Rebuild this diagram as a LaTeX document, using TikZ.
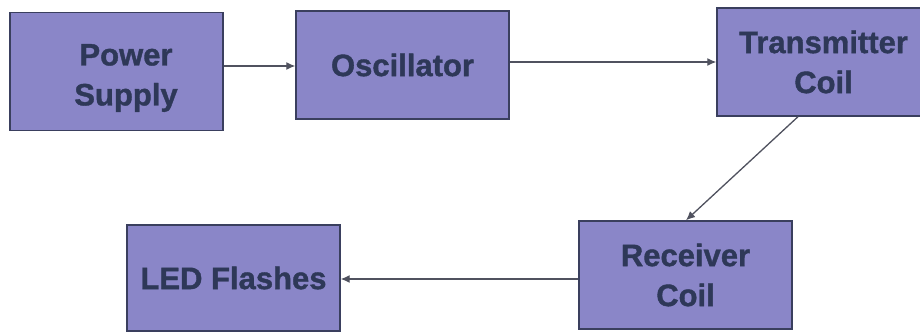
\documentclass[tikz,border=0pt]{standalone}
\usepackage{fontspec}
\setmainfont{Liberation Sans}[BoldFeatures={FakeBold=1.2}]
\usetikzlibrary{arrows.meta}
\definecolor{boxfill}{HTML}{8A86C8}
\definecolor{boxline}{HTML}{3A3F5E}
\definecolor{boxtext}{HTML}{2E3858}
\definecolor{wire}{HTML}{50525F}
\begin{document}
\begin{tikzpicture}[x=1pt,y=-1pt,
  block/.style={draw=boxline, line width=1.4pt, fill=boxfill,
    minimum width=213pt, inner sep=0pt, align=center,
    text=boxtext, font=\fontsize{31}{40}\selectfont\bfseries},
  caption/.style={inner sep=0pt, align=center,
    text=boxtext, font=\fontsize{31}{40}\selectfont\bfseries},
  link/.style={draw=wire, line width=1.3pt, -{Latex[length=9pt,width=8pt]}}]
\useasboundingbox[fill=white] (0,0) rectangle (920,332);
\node[block, minimum height=118pt] (ps)  at (116.5,71.5) {};
\node[caption] (pstext) at (126,78) {Power\\Supply};
\node[block, minimum height=108pt] (osc) at (402.5,65)   {Oscillator};
\node[block, minimum height=108pt] (tx)  at (823.5,62)   {Transmitter\\Coil};
\node[block, minimum height=108pt] (rx)  at (685.5,275)  {Receiver\\Coil};
\node[block, minimum height=106pt] (led) at (233.5,278)  {LED Flashes};
\draw[link] (ps.east |- 0,66) -- (osc.west |- 0,66);
\draw[link] (osc.east |- 0,62) -- (tx.west |- 0,62);
\draw[link] (tx.south -| 798,0) -- (rx.north -| 686,0);
\draw[link] (rx.west |- 0,279) -- (led.east |- 0,279);
\end{tikzpicture}
\end{document}
